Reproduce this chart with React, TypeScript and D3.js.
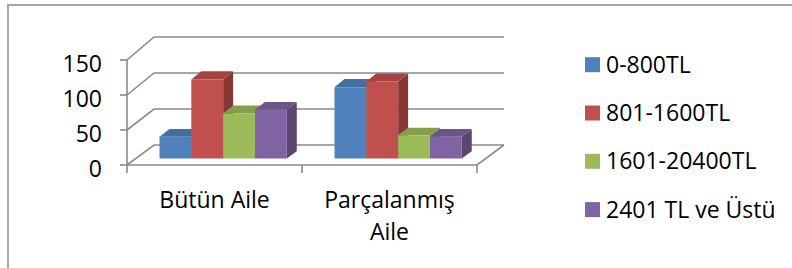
import React from "react";
import * as d3 from "d3";

const categories = ["Bütün Aile", "Parçalanmış Aile"];
const seriesNames = ["0-800TL", "801-1600TL", "1601-20400TL", "2401 TL ve Üstü"];
const seriesColors = ["#4F81BD", "#C0504D", "#9BBB59", "#8064A2"];
// values[series][category]
const valuesSeries0 = [31, 101];
const valuesSeries1 = [112, 109];
const valuesSeries2 = [64, 33];
const valuesSeries3 = [69, 31];
const values = [valuesSeries0, valuesSeries1, valuesSeries2, valuesSeries3];
const yTicks = [0, 50, 100, 150];

const W = 792;
const H = 268;
const FONT = "'Open Sans', sans-serif";
const FS = 23;

export default function App() {
  // front plane geometry
  const xFrontLeft = 127;
  const xFrontRight = 477;
  const depthDx = 27;
  const yFront = d3.scaleLinear().domain([0, 150]).range([165, 60]);
  const yBack = d3.scaleLinear().domain([0, 150]).range([145, 37]);
  const proj = (x: number, v: number, d: number): [number, number] => [
    x + d * depthDx,
    (1 - d) * yFront(v) + d * yBack(v),
  ];

  const x0 = d3.scaleBand<string>().domain(categories).range([xFrontLeft, xFrontRight]).paddingInner(0).paddingOuter(0);
  const gapRatio = 1.5;
  const bw = x0.bandwidth() / (seriesNames.length + gapRatio);
  const x1 = d3
    .scaleBand<number>()
    .domain(d3.range(seriesNames.length))
    .range([0, bw * seriesNames.length]);

  const d0 = 0.32;
  const d1 = 0.69;
  const gridColor = "#8a8a8a";
  const pts = (arr: [number, number][]) => arr.map((p) => p.join(",")).join(" ");

  const bars: JSX.Element[] = [];
  categories.forEach((cat, ci) => {
    const groupStart = (x0(cat) as number) + (x0.bandwidth() - bw * seriesNames.length) / 2;
    seriesNames.forEach((s, si) => {
      const v = values[si][ci];
      const xl = groupStart + (x1(si) as number);
      const xr = xl + bw;
      const c = d3.color(seriesColors[si])!;
      const top = c.darker(0.45).toString();
      const side = c.darker(1.0).toString();
      const fbl = proj(xl, 0, d0);
      const fbr = proj(xr, 0, d0);
      const ftl = proj(xl, v, d0);
      const ftr = proj(xr, v, d0);
      const btl = proj(xl, v, d1);
      const btr = proj(xr, v, d1);
      const bbr = proj(xr, 0, d1);
      bars.push(
        <g key={`${ci}-${si}`}>
          <polygon points={pts([fbr, ftr, btr, bbr])} fill={side} />
          <polygon points={pts([ftl, ftr, btr, btl])} fill={top} />
          <polygon points={pts([fbl, fbr, ftr, ftl])} fill={seriesColors[si]} />
        </g>
      );
    });
  });

  const legendBase = (i: number) => 72.7 + i * 48.3;

  return (
    <svg
      width={W}
      height={H}
      style={{ position: "absolute", left: 0, top: 0, background: "#fff" }}
      fontFamily={FONT}
    >
      <rect x={8} y={5} width={W + 20} height={H + 20} fill="#fff" stroke="#a6a6a6" strokeWidth={2} />
      {/* walls gridlines */}
      {yTicks.map((t) => {
        const a = proj(xFrontLeft, t, 0);
        const b = proj(xFrontLeft, t, 1);
        const c = proj(xFrontRight, t, 1);
        return (
          <polyline key={t} points={pts([a, b, c])} fill="none" stroke={gridColor} strokeWidth={1.6} />
        );
      })}
      {/* floor */}
      <polyline
        points={pts([proj(xFrontLeft, 0, 0), proj(xFrontRight, 0, 0), proj(xFrontRight, 0, 1)])}
        fill="none"
        stroke={gridColor}
        strokeWidth={1.6}
      />
      {/* value axis */}
      <line x1={xFrontLeft} x2={xFrontLeft} y1={yFront(150)} y2={yFront(0)} stroke={gridColor} strokeWidth={1.6} />
      {yTicks.map((t) => (
        <g key={"yt" + t}>
          <line x1={xFrontLeft - 7} x2={xFrontLeft} y1={yFront(t)} y2={yFront(t)} stroke={gridColor} strokeWidth={1.6} />
          <text x={102} y={yFront(t) + 11.5} textAnchor="end" fontSize={FS} fill="#000">
            {t}
          </text>
        </g>
      ))}
      {/* category ticks */}
      {[xFrontLeft, ...categories.map((c) => (x0(c) as number) + x0.bandwidth())].map((x, i) => (
        <line key={"ct" + i} x1={x} x2={x} y1={yFront(0)} y2={yFront(0) + 8} stroke={gridColor} strokeWidth={1.6} />
      ))}
      {bars}
      {/* category labels */}
      {categories.map((c) => {
        const cx = (x0(c) as number) + x0.bandwidth() / 2;
        const words = c === "Parçalanmış Aile" ? ["Parçalanmış", "Aile"] : [c];
        return (
          <text key={c} x={cx} y={208} textAnchor="middle" fontSize={FS} fill="#000">
            {words.map((w, i) => (
              <tspan key={i} x={cx} dy={i === 0 ? 0 : 31.5}>
                {w}
              </tspan>
            ))}
          </text>
        );
      })}
      {/* legend */}
      {seriesNames.map((s, i) => (
        <g key={s}>
          <rect x={585} y={legendBase(i) - 15.5} width={15} height={15} fill={seriesColors[i]} />
          <text x={606} y={legendBase(i)} fontSize={FS} fill="#000">
            {s}
          </text>
        </g>
      ))}
    </svg>
  );
}
